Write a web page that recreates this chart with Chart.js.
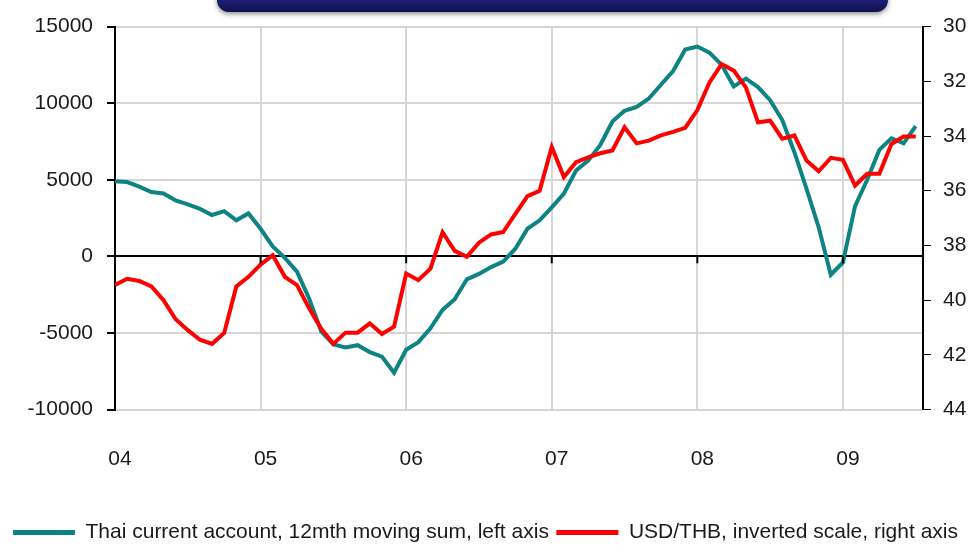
<!DOCTYPE html>
<html>
<head>
<meta charset="utf-8">
<script src="https://cdn.jsdelivr.net/npm/chart.js@4.4.1/dist/chart.umd.min.js"></script>
<style>
  html, body { margin: 0; padding: 0; background: #fff; }
  #wrap { width: 971px; height: 559px; position: relative; }
</style>
</head>
<body>
<div id="wrap"><canvas id="chart"></canvas></div>
<script>
// monthly, Jan 2004 .. Jul 2009
const yearLabels = ['04', '05', '06', '07', '08', '09'];

// Thai current account, 12mth moving sum (left axis)
const currentAccount = [
  4900, 4850, 4550, 4200, 4100, 3650, 3390, 3100, 2700, 2950, 2350, 2800,
  1800, 650, -100, -1000, -2750, -4900, -5750, -5950, -5800, -6250, -6550, -7600,
  -6100, -5600, -4700, -3500, -2800, -1500, -1150, -700, -350, 500, 1800, 2350,
  3200, 4100, 5600, 6250, 7270, 8800, 9500, 9750, 10300, 11200, 12100, 13500,
  13700, 13300, 12500, 11100, 11600, 11050, 10190, 8900, 6800, 4400, 1900, -1200,
  -400, 3280, 5000, 6950, 7710, 7380, 8500
];

// USD/THB (right axis, inverted)
const usdThb = [
  39.45, 39.22, 39.3, 39.5, 40.0, 40.7, 41.1, 41.45, 41.6, 41.2, 39.5, 39.15,
  38.7, 38.36, 39.15, 39.45, 40.3, 41.05, 41.6, 41.19, 41.19, 40.85, 41.24, 40.97,
  39.03, 39.27, 38.85, 37.52, 38.2, 38.42, 37.9, 37.6, 37.51, 36.85, 36.2, 36.0,
  34.4, 35.5, 34.96, 34.78, 34.63, 34.53, 33.68, 34.27, 34.17, 33.98, 33.85, 33.7,
  33.05, 32.04, 31.37, 31.61, 32.22, 33.5, 33.44, 34.1, 33.98, 34.9, 35.29, 34.8,
  34.87, 35.81, 35.38, 35.38, 34.29, 34.02, 34.02
];

const FONT = "'Liberation Sans Narrow', 'Arial Narrow', 'Liberation Sans', Arial, sans-serif";
const FSIZE = 21;
const TEAL = '#0e8383';
const RED = '#ff0000';
const GRID = '#d6d6d6';
const TXT = '#1a1a1a';

const toPoints = arr => arr.map((v, i) => ({ x: i, y: v }));

// navy title box (cut off at the top) and tick marks on the zero line
const decor = {
  id: 'decor',
  beforeDraw(chart) {
    const c = chart.ctx;
    c.save();
    c.shadowColor = 'rgba(0,0,0,0.45)';
    c.shadowBlur = 5;
    c.shadowOffsetY = 2;
    const g = c.createLinearGradient(0, -20, 0, 12);
    g.addColorStop(0, '#2a2a8a');
    g.addColorStop(0.7, '#1b1b70');
    g.addColorStop(1, '#10104e');
    c.fillStyle = g;
    c.beginPath();
    c.roundRect(217, -30, 671, 42, 12);
    c.fill();
    c.restore();
  },
  afterDatasetsDraw(chart) {
    const c = chart.ctx;
    const xs = chart.scales.x, ys = chart.scales.y;
    const y0 = ys.getPixelForValue(0);
    c.save();
    c.strokeStyle = '#000';
    c.lineWidth = 2;
    xs.ticks.forEach(t => {
      const px = xs.getPixelForValue(t.value);
      c.beginPath();
      c.moveTo(px, y0);
      c.lineTo(px, y0 + 7);
      c.stroke();
    });
    c.restore();
  }
};

new Chart(document.getElementById('chart'), {
  type: 'line',
  data: {
    datasets: [
      {
        label: 'Thai current account, 12mth moving sum, left axis',
        data: toPoints(currentAccount),
        borderColor: TEAL,
        backgroundColor: TEAL,
        borderWidth: 4,
        pointRadius: 0,
        tension: 0,
        yAxisID: 'y',
        order: 1
      },
      {
        label: 'USD/THB, inverted scale, right axis',
        data: toPoints(usdThb),
        borderColor: RED,
        backgroundColor: RED,
        borderWidth: 4,
        pointRadius: 0,
        tension: 0,
        yAxisID: 'y1',
        order: 0
      }
    ]
  },
  options: {
    responsive: true,
    maintainAspectRatio: false,
    animation: false,
    layout: { padding: { top: 26, left: 0, right: 0, bottom: 6 } },
    plugins: {
      title: { display: false },
      tooltip: { enabled: false },
      legend: {
        position: 'bottom',
        labels: {
          font: { family: FONT, size: FSIZE },
          color: TXT,
          boxWidth: 62,
          boxHeight: 5,
          padding: 7.5,
          sort: (a, b) => a.datasetIndex - b.datasetIndex,
          generateLabels(chart) {
            const items = Chart.defaults.plugins.legend.labels.generateLabels(chart);
            items.forEach(it => { it.lineWidth = 0; });
            return items;
          }
        }
      }
    },
    scales: {
      x: {
        type: 'linear',
        min: 0,
        max: 66.6,
        afterBuildTicks(scale) {
          scale.ticks = yearLabels.map((_, i) => ({ value: i * 12 }));
        },
        afterFit(scale) { scale.height = 105; },
        ticks: {
          callback: v => yearLabels[v / 12],
          labelOffset: 5,
          padding: 37,
          maxRotation: 0,
          font: { family: FONT, size: FSIZE },
          color: TXT
        },
        grid: { color: GRID, lineWidth: 2, drawTicks: false },
        border: { display: false }
      },
      y: {
        position: 'left',
        min: -10000,
        max: 15000,
        afterFit(scale) { scale.width = 115; },
        ticks: {
          stepSize: 5000,
          padding: 14,
          callback: v => String(v),
          font: { family: FONT, size: FSIZE },
          color: TXT
        },
        grid: {
          color: ctx => (ctx.tick && ctx.tick.value === 0 ? '#000' : GRID),
          lineWidth: 2,
          tickColor: '#000',
          tickLength: 8
        },
        border: { color: '#000', width: 2 }
      },
      y1: {
        position: 'right',
        reverse: true,
        min: 30,
        max: 44,
        afterFit(scale) { scale.width = 48; },
        ticks: {
          stepSize: 2,
          padding: 12,
          callback: v => String(v),
          font: { family: FONT, size: FSIZE },
          color: TXT
        },
        grid: { drawOnChartArea: false, tickColor: '#000', tickLength: 8 },
        border: { color: '#000', width: 2 }
      }
    }
  },
  plugins: [decor]
});
</script>
</body>
</html>
